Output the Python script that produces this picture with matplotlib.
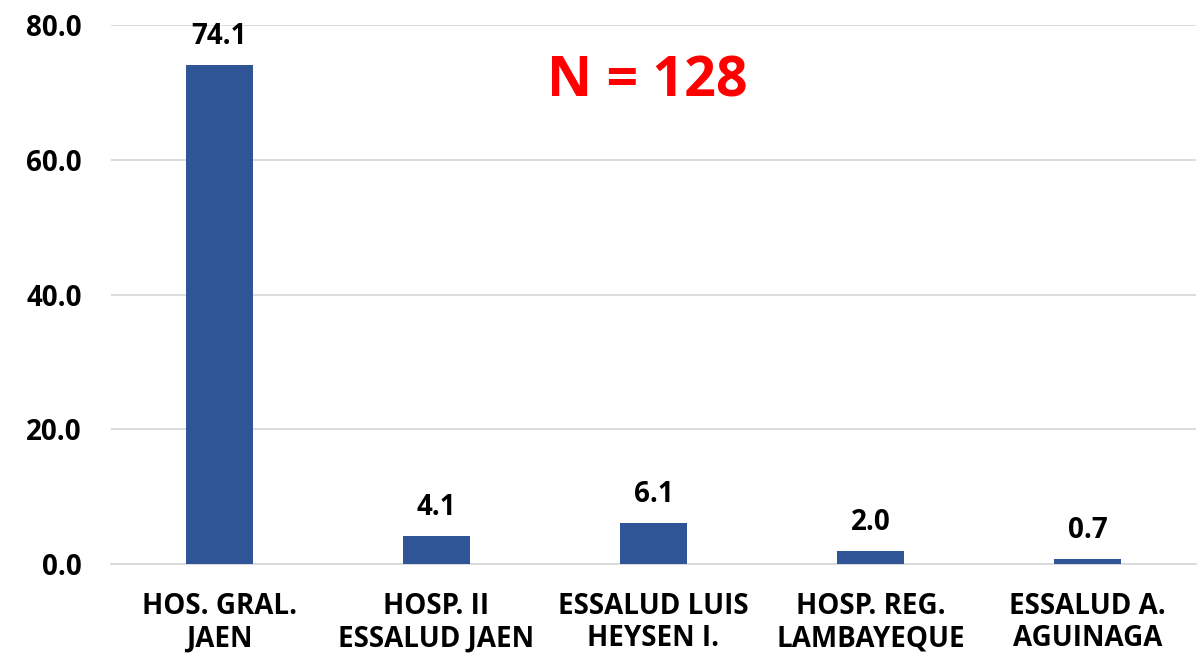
import matplotlib.pyplot as plt
import numpy as np

# hospital names and percentages
categories = ['HOS. GRAL.\nJAEN', 'HOSP. II\nESSALUD JAEN', 'ESSALUD LUIS\nHEYSEN I.',
              'HOSP. REG.\nLAMBAYEQUE', 'ESSALUD A.\nAGUINAGA']
values = [74.1, 4.1, 6.1, 2.0, 0.7]
yticks = [0, 20, 40, 60, 80]

plt.rcParams['font.family'] = ['Open Sans', 'DejaVu Sans']
plt.rcParams['font.weight'] = 'bold'

fig = plt.figure(figsize=(12.04, 6.63), dpi=100)
ax = fig.add_axes([111/1204, 1-564/663, 1085/1204, 539/663])

x = np.arange(len(categories))
bars = ax.bar(x, values, width=0.31, color='#2f5597', zorder=3)

for b, v in zip(bars, values):
    ax.annotate('%.1f' % v, (b.get_x() + b.get_width()/2, v), xytext=(0, 10),
                textcoords='offset points', ha='center', va='bottom',
                fontsize=20, fontweight='bold')

ax.set_xlim(-0.5, len(categories) - 0.5)
ax.set_ylim(0, 80)
ax.set_yticks(yticks)
ax.set_yticklabels(['%.1f' % t for t in yticks], fontsize=20, fontweight='bold')
ax.set_xticks(x)
ax.set_xticklabels(categories, fontsize=20, fontweight='bold', linespacing=1.15)
ax.tick_params(axis='y', length=0, pad=21)
ax.tick_params(axis='x', length=0, pad=20)

ax.grid(axis='y', color='#d9d9d9', linewidth=1.3, zorder=0)
for s in ['top', 'right', 'left']:
    ax.spines[s].set_visible(False)
ax.spines['bottom'].set_color('#d9d9d9')
ax.spines['bottom'].set_linewidth(1.3)

fig.text(647/1204, 1-82/663, 'N = 128', color='#ff0000', fontsize=40,
         fontweight='bold', ha='center', va='center')

fig.savefig('out.png', dpi=100)
